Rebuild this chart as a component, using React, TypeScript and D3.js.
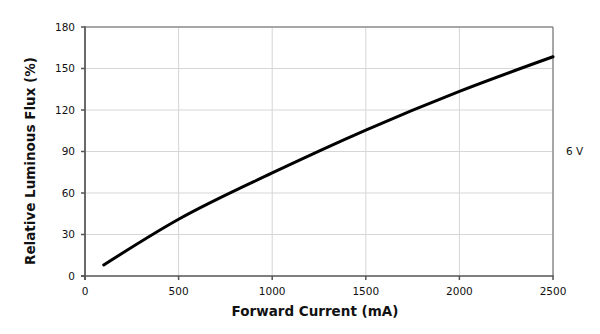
import React from "react";
import * as d3 from "d3";

const currents = [100, 500, 1000, 1500, 2000, 2500];
const flux = [8, 41, 74.5, 105.5, 133.5, 158.5];
const xTicks = [0, 500, 1000, 1500, 2000, 2500];
const yTicks = [0, 30, 60, 90, 120, 150, 180];
const seriesLabel = "6 V";
const xTitle = "Forward Current (mA)";
const yTitle = "Relative Luminous Flux (%)";

const W = 600, H = 334;
const L = 85, R = 553, T = 27, B = 276;
const font = "'DejaVu Sans', Verdana, sans-serif";

export default function App() {
  const x = d3.scaleLinear().domain([0, 2500]).range([L, R]);
  const y = d3.scaleLinear().domain([0, 180]).range([B, T]);
  const pts = currents.map((c, i) => [c, flux[i]] as [number, number]);
  const line = d3.line<[number, number]>().x(d => x(d[0])).y(d => y(d[1])).curve(d3.curveMonotoneX);
  return (
    <svg width={W} height={H} style={{ position: "absolute", left: 0, top: 0, background: "#fff" }}>
      <rect x={0} y={0} width={W} height={H} fill="#fff" />
      {xTicks.slice(1, -1).map(t => (
        <line key={"gx" + t} x1={x(t)} x2={x(t)} y1={T} y2={B} stroke="#d6d6d6" strokeWidth={1} />
      ))}
      {yTicks.slice(1, -1).map(t => (
        <line key={"gy" + t} x1={L} x2={R} y1={y(t)} y2={y(t)} stroke="#d6d6d6" strokeWidth={1} />
      ))}
      <line x1={L} x2={R} y1={T} y2={T} stroke="#8a8a8a" strokeWidth={1.5} />
      <line x1={R} x2={R} y1={T} y2={B} stroke="#8a8a8a" strokeWidth={1.5} />
      <line x1={L} x2={L} y1={T - 0.75} y2={B + 4} stroke="#6a6a6a" strokeWidth={2} />
      <line x1={L - 4} x2={R + 0.75} y1={B} y2={B} stroke="#555" strokeWidth={1.5} />
      {yTicks.map(t => (
        <g key={"ty" + t}>
          <line x1={L - 4} x2={L} y1={y(t)} y2={y(t)} stroke="#555" strokeWidth={1.5} />
          <text x={L - 10} y={y(t)} dy="0.35em" textAnchor="end" fontFamily={font} fontSize={10.5} fill="#111">{t}</text>
        </g>
      ))}
      {xTicks.map(t => (
        <g key={"tx" + t}>
          <line x1={x(t)} x2={x(t)} y1={B} y2={B + 4} stroke="#555" strokeWidth={1.5} />
          <text x={x(t)} y={B + 15} dy="0.35em" textAnchor="middle" fontFamily={font} fontSize={10.5} fill="#111">{t}</text>
        </g>
      ))}
      <path d={line(pts) || ""} fill="none" stroke="#000" strokeWidth={3} strokeLinecap="round" />
      <text x={566} y={151} dy="0.35em" fontFamily={font} fontSize={10.5} fill="#111">{seriesLabel}</text>
      <text x={315} y={311} dy="0.35em" textAnchor="middle" fontFamily={font} fontSize={13.5} fontWeight="bold" fill="#111">{xTitle}</text>
      <text transform={`translate(30,161) rotate(-90)`} dy="0.35em" textAnchor="middle" fontFamily={font} fontSize={13.5} fontWeight="bold" fill="#111">{yTitle}</text>
    </svg>
  );
}
